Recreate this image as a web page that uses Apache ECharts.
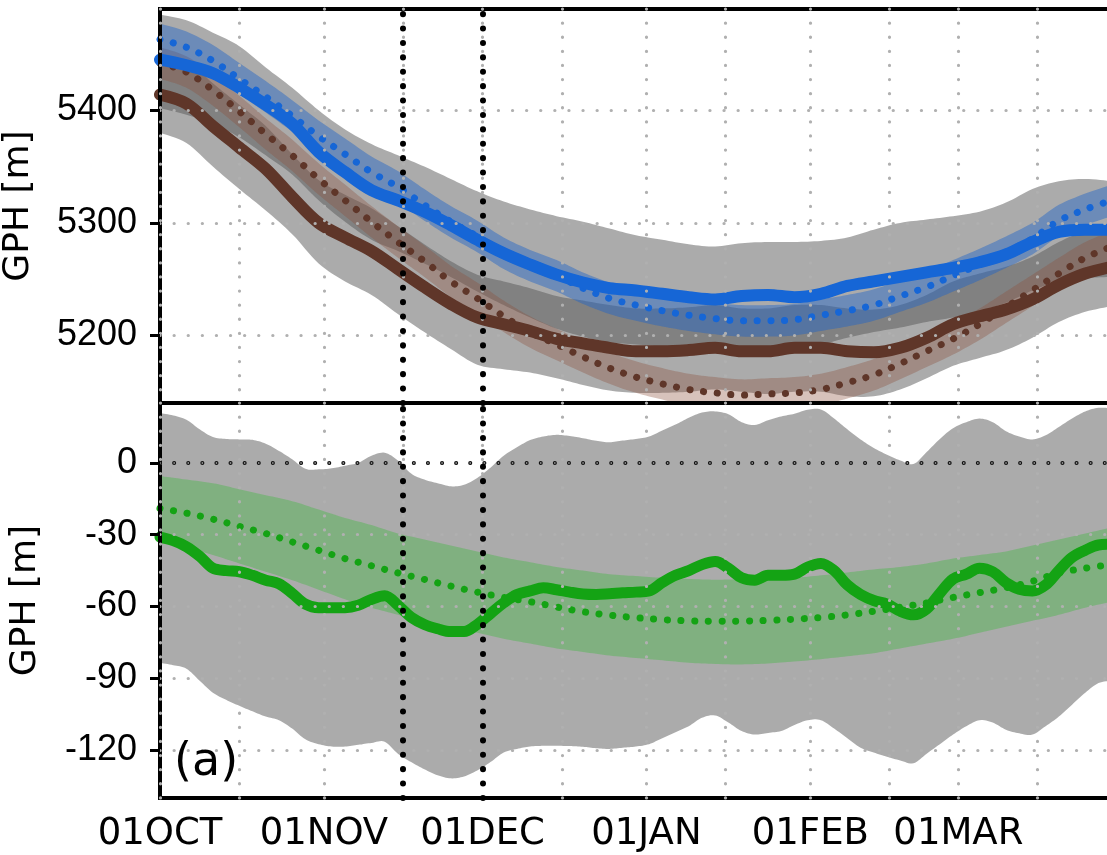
<!DOCTYPE html>
<html><head><meta charset="utf-8">
<script src="https://cdn.jsdelivr.net/npm/echarts@6/dist/echarts.min.js"></script>
<style>html,body{margin:0;padding:0;background:#fff}#c{width:1107px;height:855px}</style>
</head><body><div id="c"></div>
<script>
// ---- x positions (days after 01 OCT) ----
const daysTop = [0,5,10,15,20,25,30,35,40,45,50,55,60,65,70,75,80,85,90,95,100,105,110,115,120,125,130,135,140,145,150,155,160,165,170,175,180];
const daysFine = [0,2.5,5,7.5,10,12.5,15,17.5,20,22.5,25,27.5,30,32.5,35,37.5,40,42.5,45,47.5,50,52.5,55,57.5,60,62.5,65,67.5,70,72.5,75,77.5,80,82.5,85,87.5,90,92.5,95,97.5,100,102.5,105,107.5,110,112.5,115,117.5,120,122.5,125,127.5,130,132.5,135,137.5,140,142.5,145,147.5,150,152.5,155,157.5,160,162.5,165,167.5,170,172.5,175,177.5,180];

// ---- tick labels ----
const monthDays = [0,31,61,92,123,151];
const monthLabels = ['01OCT','01NOV','01DEC','01JAN','01FEB','01MAR'];
const gridDays = [0,15,31,46,61,76,92,107,123,138,151,166,182];
const markDays = [46,61];
const topTicks = [5200,5300,5400];
const botTicks = [0,-30,-60,-90,-120];

// ---- top panel (GPH [m]) ----
const blueObs = [5445,5440,5433,5420,5405,5388,5363,5345,5329,5320,5310,5298,5285,5273,5263,5254,5247,5242,5240,5237,5234,5232,5235,5236,5234,5237,5244,5248,5252,5256,5260,5265,5272,5283,5292,5294,5294];
const blueClim = [5463,5456,5444,5428,5412,5395,5377,5361,5345,5332,5316,5301,5288,5273,5262,5253,5242,5233,5227,5222,5218,5215,5213,5213,5214,5218,5222,5227,5235,5243,5253,5263,5274,5286,5302,5312,5320];
const blueClimHi = [5477,5470,5458,5442,5426,5409,5391,5375,5359,5346,5330,5315,5302,5287,5276,5267,5256,5247,5241,5236,5232,5229,5227,5227,5228,5232,5236,5241,5249,5257,5267,5277,5288,5300,5316,5326,5334];
const blueClimLo = [5449,5442,5430,5414,5398,5381,5363,5347,5331,5318,5302,5287,5274,5259,5248,5239,5228,5219,5213,5208,5204,5201,5199,5199,5200,5204,5208,5213,5221,5229,5239,5249,5260,5272,5288,5298,5306];
const blueSprHi = [5485,5480,5469,5457,5438,5420,5400,5383,5370,5360,5350,5339,5328,5319,5312,5306,5301,5295,5289,5285,5281,5279,5282,5283,5283,5284,5287,5294,5300,5303,5306,5310,5318,5330,5337,5339,5337];
const blueSprLo = [5402,5396,5388,5376,5360,5343,5320,5301,5285,5275,5264,5252,5239,5227,5216,5206,5199,5194,5192,5190,5188,5187,5189,5190,5189,5192,5198,5203,5207,5212,5216,5222,5229,5240,5248,5251,5252];

const brownObs = [5414,5406,5386,5367,5348,5323,5300,5287,5275,5259,5243,5228,5216,5210,5204,5197,5193,5189,5186,5186,5187,5189,5186,5186,5189,5189,5186,5185,5189,5198,5210,5217,5223,5232,5245,5255,5261];
const brownClim = [5442,5434,5418,5399,5379,5360,5339,5320,5301,5283,5266,5248,5233,5217,5203,5192,5181,5171,5163,5157,5152,5149,5147,5148,5149,5152,5158,5165,5175,5186,5197,5210,5225,5240,5255,5269,5279];
const brownClimHi = [5456,5448,5432,5413,5393,5374,5353,5334,5315,5297,5280,5262,5247,5231,5217,5206,5195,5185,5177,5171,5166,5163,5161,5162,5163,5166,5172,5179,5189,5200,5211,5224,5239,5254,5269,5283,5293];
const brownClimLo = [5428,5420,5404,5385,5365,5346,5325,5306,5287,5269,5252,5234,5219,5203,5189,5178,5167,5157,5149,5143,5138,5135,5133,5134,5135,5138,5144,5151,5161,5172,5183,5196,5211,5226,5241,5255,5265];
const brownSprHi = [5446,5444,5424,5405,5386,5361,5338,5325,5313,5297,5281,5266,5254,5248,5242,5235,5231,5227,5224,5224,5225,5227,5224,5224,5227,5227,5224,5223,5227,5236,5248,5255,5261,5270,5283,5293,5299];
const brownSprLo = [5380,5371,5350,5330,5311,5290,5264,5248,5236,5219,5203,5188,5174,5170,5167,5162,5156,5151,5149,5149,5150,5152,5150,5148,5150,5150,5146,5146,5152,5162,5173,5180,5187,5198,5212,5221,5226];

// ---- bottom panel (difference) ----
const greenObs = [-31,-32.5,-35,-39,-44,-45,-45.5,-47,-49,-50.5,-54.5,-59,-60.5,-60.5,-60.5,-59.5,-57,-55.5,-59.5,-64.5,-67.5,-69.3,-70.5,-70.5,-67.5,-63,-58.5,-55,-53.5,-52.2,-53,-54,-54.8,-55,-54.7,-54.3,-54,-53.5,-50,-47,-45,-42.5,-41.2,-44,-48,-49,-47,-47,-46.5,-43.5,-42,-45,-51,-55,-57.5,-59,-62,-63.5,-61,-54.5,-48.5,-46.5,-44,-45.5,-50,-52.8,-53.5,-51,-45,-39.5,-36.5,-34.3,-34];
const greySprHi = [20.8,19.8,18,14,10.8,10,9.8,9.6,8,5,1.5,-2.5,-2.7,-2.3,-1.2,0,3,4.2,1,-4.5,-7,-8.5,-9.8,-9.2,-6.3,-2,3,6.5,9.5,11,11.7,11.2,10.3,9.2,8.6,9.3,10,11,13.5,16,18.8,21,21.5,20.3,17,15.8,17.8,19.4,20.5,22.2,22.3,18.5,14,9.8,6.2,3.4,1,-0.5,4.5,10,14.5,17,18.5,17,13.2,11,9.8,11.5,15,18.5,21.5,23,22.8];
const greySprLo = [-83.5,-84.5,-86,-91,-96,-99,-101.5,-103.8,-106,-107.5,-111,-115.5,-117.5,-118.5,-118.5,-117.8,-117,-116.5,-121.5,-125,-128,-130.5,-131.8,-131,-128.5,-125,-121,-119.5,-118.5,-118.2,-118.2,-118.3,-118.6,-119.2,-119.5,-119,-118.5,-117.5,-115,-112.5,-110,-106.5,-105.5,-108.5,-112,-113.5,-112.8,-112,-109.5,-107.5,-107.5,-111,-115,-119,-121,-122.8,-124.3,-125.5,-121.5,-117.5,-113.5,-110,-107.5,-108.5,-111.5,-113,-113.5,-110,-106,-101,-96,-92,-91];
const greenClim = [-19,-21,-23.5,-26.5,-29.5,-33,-36.5,-40,-43,-46,-48.7,-51.5,-54,-56.2,-58,-60.2,-62.2,-63.6,-64.7,-65.5,-66,-66.2,-66.1,-65.8,-65.3,-64.6,-63.5,-62,-60.3,-58.5,-56.2,-54.2,-52.2,-49.5,-46,-44,-42.5];
const greenClimHi = [-5.5,-7,-8.5,-11,-13.5,-16,-19.5,-23,-26,-29.5,-32,-34.5,-37,-39.5,-41.5,-43.5,-45,-46.5,-47.3,-48,-48.5,-48.8,-48.6,-48.3,-48,-47,-45.8,-44.5,-43.5,-42,-40,-38.5,-37,-34.5,-32,-29.5,-27];
const greenClimLo = [-33,-35.5,-38.5,-42,-45.5,-49,-53,-57,-60.5,-63.5,-66.5,-69,-71,-73.5,-75.5,-77.5,-79,-80.5,-81.5,-82.5,-83.5,-84,-84.2,-83.8,-83,-82,-80.8,-79.5,-77.5,-75.5,-73.5,-71,-68.5,-66,-63.5,-60.5,-58];

// ---- build options ----
const pairs = (xs, ys) => xs.map((x, i) => [x, ys[i]]);

// Catmull-Rom subdivision of pixel points (rendering only, for a smooth band edge)
function smoothPts(pts, n) {
  const out = [];
  for (let i = 0; i < pts.length - 1; i++) {
    const p0 = pts[Math.max(i - 1, 0)], p1 = pts[i], p2 = pts[i + 1], p3 = pts[Math.min(i + 2, pts.length - 1)];
    for (let k = 0; k < n; k++) {
      const t = k / n, t2 = t * t, t3 = t2 * t;
      const f = j => 0.5 * ((2 * p1[j]) + (-p0[j] + p2[j]) * t + (2 * p0[j] - 5 * p1[j] + 4 * p2[j] - p3[j]) * t2 + (-p0[j] + 3 * p1[j] - 3 * p2[j] + p3[j]) * t3);
      out.push([f(0), f(1)]);
    }
  }
  out.push(pts[pts.length - 1]);
  return out;
}
function band(gi, xs, lo, hi, color) {
  return {
    type:'custom', xAxisIndex:gi, yAxisIndex:gi, silent:true, clip:true, z:2,
    data: xs.map((x, i) => [x, lo[i], hi[i]]),
    encode:{x:0, y:[1,2]},
    renderItem:(params, api) => {
      if (params.dataIndexInside !== 0) return null;
      const top = smoothPts(xs.map((x, i) => api.coord([x, hi[i]])), 8);
      const bot = smoothPts(xs.map((x, i) => api.coord([x, lo[i]])), 8).reverse();
      return {type:'polygon', shape:{points: top.concat(bot)}, style:{fill: color}};
    }
  };
}
function line(gi, xs, ys, color, dotted, width) {
  return {type:'line', xAxisIndex:gi, yAxisIndex:gi, data:pairs(xs, ys), symbol:'none', smooth:0.35, silent:true, z:2,
    lineStyle: dotted ? {color:color, width:width, type:[0.1, 13.6], cap:'round'} : {color:color, width:width, cap:'round', join:'round'}};
}
// series that only carries reference lines (drawn above the grid lines)
function markers(gi, yRef, extraLines) {
  return {type:'line', xAxisIndex:gi, yAxisIndex:gi, data:[[-50, yRef]], symbol:'none', silent:true, z:8,
    lineStyle:{opacity:0},
    markLine:{silent:true, symbol:['none','none'], label:{show:false}, animation:false,
      data: extraLines.concat(markDays.map(d => ({xAxis:d,
        lineStyle:{color:'#000', width:6, type:[0.1,14.3], cap:'round', opacity:1}})))}};
}

const gridLine = {show:true, lineStyle:{color:'#b0b0b0', width:3.2, type:[0.1,14], cap:'round'}};
const BLUE='#1666d6', BROWN='#5f3629', GREEN='#14a314';
const GREY='rgba(87,87,87,0.5)';

const xBase = () => ({type:'value', min:0, max:181, z:5, axisLine:{show:false},
  axisTick:{show:false, customValues:gridDays}, splitLine:gridLine});
const yBase = () => ({type:'value', z:5, axisLine:{show:false}, splitLine:gridLine,
  nameLocation:'middle', name:'GPH [m]',
  nameTextStyle:{fontSize:36, fontFamily:'DejaVu Sans', color:'#000'}});

const option = {
  animation:false,
  grid:[
    {left:160, right:-10, top:9, height:394, show:true, borderColor:'#000', borderWidth:4, z:4, containLabel:false, outerBoundsMode:'none'},
    {left:160, right:-10, top:403, height:395, show:true, borderColor:'#000', borderWidth:4, z:4, containLabel:false, outerBoundsMode:'none'}
  ],
  xAxis:[
    Object.assign(xBase(), {gridIndex:0, axisLabel:{show:false}}),
    Object.assign(xBase(), {gridIndex:1, axisLabel:{show:true, customValues:monthDays, margin:18,
      fontSize:37, fontFamily:'DejaVu Sans', color:'#000',
      formatter:v => monthLabels[monthDays.indexOf(Math.round(v))] || ''}})
  ],
  yAxis:[
    Object.assign(yBase(), {gridIndex:0, min:5140, max:5490, nameGap:123,
      axisTick:{show:true, inside:false, length:10, customValues:topTicks, lineStyle:{color:'#000', width:3}},
      axisLabel:{customValues:topTicks, margin:23, fontSize:36, fontFamily:'Liberation Sans', color:'#000', formatter:v => String(v)}}),
    Object.assign(yBase(), {gridIndex:1, min:-140, max:25, nameGap:116,
      axisTick:{show:true, inside:false, length:10, customValues:botTicks, lineStyle:{color:'#000', width:3}},
      axisLabel:{customValues:botTicks, margin:23, fontSize:36, fontFamily:'Liberation Sans', color:'#000', formatter:v => String(v)}})
  ],
  graphic:[{type:'text', left:174, top:740, z:20, style:{text:'(a)', font:'46px "DejaVu Sans"', fill:'#000'}}],
  series:[
    band(0, daysTop, brownSprLo, brownSprHi, GREY),
    band(0, daysTop, blueSprLo, blueSprHi, GREY),
    band(0, daysTop, brownClimLo, brownClimHi, 'rgba(140,80,60,0.35)'),
    band(0, daysTop, blueClimLo, blueClimHi, 'rgba(30,100,200,0.45)'),
    line(0, daysTop, brownClim, BROWN, true, 7),
    line(0, daysTop, brownObs, BROWN, false, 12),
    line(0, daysTop, blueClim, BLUE, true, 7),
    line(0, daysTop, blueObs, BLUE, false, 12),
    markers(0, 5300, []),
    band(1, daysFine, greySprLo, greySprHi, GREY),
    band(1, daysTop, greenClimLo, greenClimHi, 'rgba(65,185,65,0.4)'),
    line(1, daysTop, greenClim, GREEN, true, 7),
    line(1, daysFine, greenObs, GREEN, false, 11),
    markers(1, 0, [
      {yAxis:0, lineStyle:{color:'#111', width:4, type:[0.1,14], cap:'round', opacity:1}},
      {yAxis:0, lineStyle:{color:'#bbbbbb', width:1.6, type:[0.1,14], cap:'round', opacity:1}}
    ])
  ]
};
const chart = echarts.init(document.getElementById('c'), null, {renderer:'canvas'});
chart.setOption(option);
</script>
</body></html>
